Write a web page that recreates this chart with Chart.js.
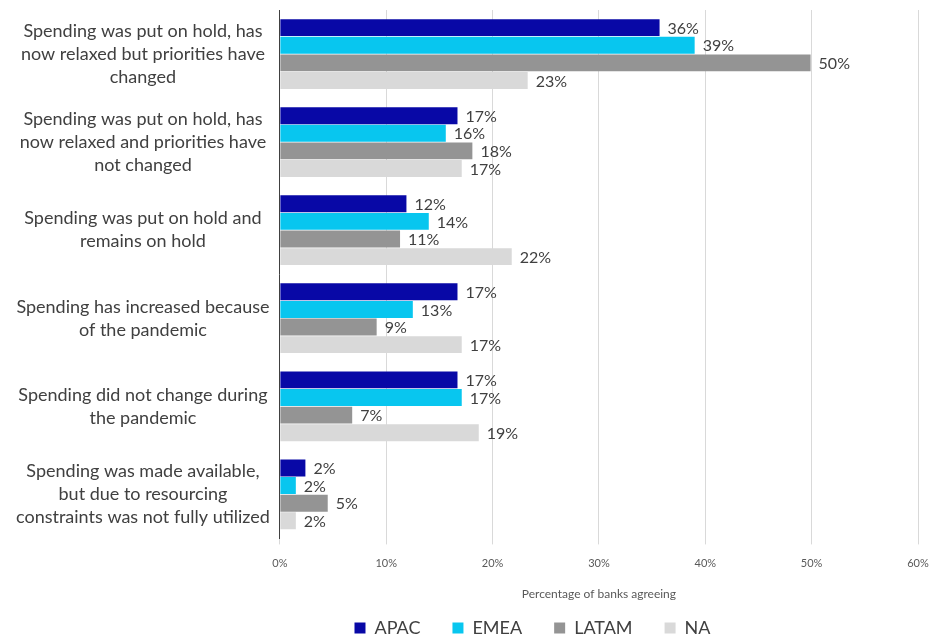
<!DOCTYPE html>
<html>
<head>
<meta charset="utf-8">
<script src="https://cdn.jsdelivr.net/npm/chart.js@4/dist/chart.umd.min.js"></script>
<style>
  html, body { margin: 0; padding: 0; background: #ffffff; }
  #wrap { position: relative; width: 935px; height: 641px; }
</style>
</head>
<body>
<div id="wrap"><canvas id="c"></canvas></div>
<script>
const categories = [
  ["Spending was put on hold, has", "now relaxed but priorities have", "changed"],
  ["Spending was put on hold, has", "now relaxed and priorities have", "not changed"],
  ["Spending was put on hold and", "remains on hold"],
  ["Spending has increased because", "of the pandemic"],
  ["Spending did not change during", "the pandemic"],
  ["Spending was made available,", "but due to resourcing", "constraints was not fully utilized"]
];
const seriesNames = ["APAC", "EMEA", "LATAM", "NA"];
const apacValues  = [35.7, 16.7, 11.9, 16.7, 16.7, 2.4];
const emeaValues  = [39.0, 15.6, 14.0, 12.5, 17.1, 1.5];
const latamValues = [49.9, 18.1, 11.3, 9.1, 6.8, 4.5];
const naValues    = [23.3, 17.1, 21.8, 17.1, 18.7, 1.5];
const apacLabels  = ["36%", "17%", "12%", "17%", "17%", "2%"];
const emeaLabels  = ["39%", "16%", "14%", "13%", "17%", "2%"];
const latamLabels = ["50%", "18%", "11%", "9%", "7%", "5%"];
const naLabels    = ["23%", "17%", "22%", "17%", "19%", "2%"];
const xTickValues = [0, 10, 20, 30, 40, 50, 60];
const axisTitle = "Percentage of banks agreeing";

const colors = ["#0808a6", "#08c6ef", "#949494", "#d9d9d9"];
const FONT = "Lato, 'Open Sans', sans-serif";
const TEXT = "#404040";

const valueLabelPlugin = {
  id: 'valueLabels',
  afterDatasetsDraw(chart) {
    const ctx = chart.ctx;
    ctx.save();
    ctx.font = "16px " + FONT;
    ctx.fillStyle = TEXT;
    ctx.textAlign = 'left';
    ctx.textBaseline = 'middle';
    chart.data.datasets.forEach((ds, i) => {
      const meta = chart.getDatasetMeta(i);
      meta.data.forEach((el, j) => {
        ctx.fillText(ds.valueLabels[j], el.x + 8, el.y + 1);
      });
    });
    ctx.restore();
  }
};

const legendShift = {
  id: 'legendShift',
  afterLayout(chart) {
    if (chart.legend) { chart.legend.left += 62; chart.legend.right += 62; }
  }
};

const labelSets = [apacLabels, emeaLabels, latamLabels, naLabels];
const valueSets = [apacValues, emeaValues, latamValues, naValues];

new Chart(document.getElementById('c'), {
  type: 'bar',
  data: {
    labels: categories,
    datasets: seriesNames.map((n, i) => ({
      label: n,
      data: valueSets[i],
      valueLabels: labelSets[i],
      backgroundColor: colors[i],
      borderWidth: 0,
      categoryPercentage: 0.8,
      barPercentage: 0.96
    }))
  },
  options: {
    indexAxis: 'y',
    responsive: true,
    maintainAspectRatio: false,
    animation: false,
    layout: { padding: { top: 10, right: 0, left: 6, bottom: -6 } },
    scales: {
      x: {
        min: 0, max: 60,
        afterBuildTicks(axis) { axis.ticks = xTickValues.map(v => ({ value: v })); },
        afterFit(axis) { axis.paddingRight = 17; },
        ticks: {
          callback: v => v + '%',
          color: '#595959',
          font: { family: FONT, size: 11 },
          padding: 12
        },
        grid: { color: '#d9d9d9', lineWidth: 1, drawTicks: true, tickLength: 6 },
        border: { display: false },
        title: {
          display: true,
          text: axisTitle,
          color: '#595959',
          font: { family: FONT, size: 12 },
          padding: { top: 5, bottom: -14 }
        }
      },
      y: {
        afterFit(axis) { axis.paddingTop = 0; axis.paddingBottom = 0; },
        grid: { display: false, drawTicks: false },
        border: { display: true, color: '#404040', width: 1 },
        ticks: {
          crossAlign: 'center',
          color: TEXT,
          font: { family: FONT, size: 18, lineHeight: 1.28 },
          padding: 10,
          autoSkip: false
        }
      }
    },
    plugins: {
      legend: {
        position: 'bottom',
        labels: {
          boxWidth: 11,
          boxHeight: 11,
          padding: 32,
          color: TEXT,
          font: { family: FONT, size: 18 }
        }
      },
      tooltip: { enabled: false }
    }
  },
  plugins: [valueLabelPlugin, legendShift]
});
</script>
</body>
</html>
